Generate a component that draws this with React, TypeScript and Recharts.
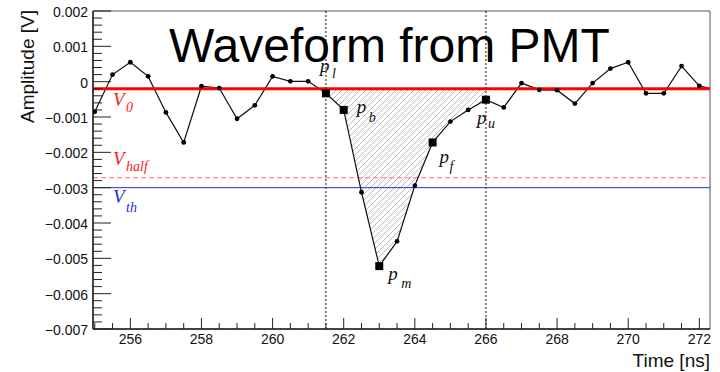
import React from "react";
import {
  ComposedChart,
  Line,
  Area,
  XAxis,
  YAxis,
  ReferenceLine,
  ReferenceArea,
} from "recharts";

// sample times [ns] and amplitudes [V]
const times = [
  255, 255.5, 256, 256.5, 257, 257.5, 258, 258.5, 259, 259.5, 260, 260.5,
  261, 261.5, 262, 262.5, 263, 263.5, 264, 264.5, 265, 265.5, 266, 266.5,
  267, 267.5, 268, 268.5, 269, 269.5, 270, 270.5, 271, 271.5, 272, 272.5,
];
const amplitudes = [
  -0.00085, 0.0002, 0.00055, 0.00015, -0.00087, -0.00172, -0.00013, -0.00018,
  -0.00105, -0.00067, 0.00015, 0.00001, 0.00001, -0.00033, -0.0008, -0.00313,
  -0.00522, -0.00452, -0.00294, -0.00172, -0.00113, -0.0008, -0.00051,
  -0.00073, -0.00004, -0.00023, -0.00024, -0.00062, -0.00004, 0.00037,
  0.00055, -0.00033, -0.00033, 0.00044, -0.00012, -0.00025,
];

// special points of the pulse: time -> subscript
const markTimes = [261.5, 262, 263, 264.5, 266];
const markNames = ["l", "b", "m", "f", "u"];

const v0 = -0.0002;
const vHalf = -0.00272;
const vTh = -0.003;
const pulseStart = 261.5;
const pulseEnd = 266;

const xDomain = [254.95, 272.3];
const yDomain = [-0.007, 0.002];

const timeTicks = Array.from({ length: 35 }, (_, i) => 255 + i * 0.5);
const ampTicks = Array.from({ length: 46 }, (_, i) =>
  Number(((i - 35) * 0.0002).toFixed(4))
);

const data = times.map((t, i) => {
  const k = markTimes.indexOf(t);
  return {
    t,
    v: amplitudes[i],
    band: t >= pulseStart && t <= pulseEnd ? [v0, amplitudes[i]] : null,
    mark: k >= 0 ? markNames[k] : null,
  };
});

const sans = "Liberation Sans, Arial, Helvetica, sans-serif";
const serif = "Liberation Serif, Times New Roman, serif";
const serifItalic = { fontFamily: serif, fontStyle: "italic" as const };

// label offsets relative to the marker: [p dx, p dy, sub dx, sub dy]
const markOffsets: Record<string, number[]> = {
  l: [-6, -21, 6, -15],
  b: [13, 3, 25, 12],
  m: [9, 14, 22, 22],
  f: [7, 21, 17, 29],
  u: [-9, 24, 2, 28],
};

const renderDot = (props: any) => {
  const { cx, cy, payload, index } = props;
  if (cx == null || cy == null) return <g key={index} />;
  if (payload.mark) {
    const o = markOffsets[payload.mark];
    return (
      <g key={index}>
        <rect x={cx - 4} y={cy - 4} width={8} height={8} fill="#000" />
        <text x={cx + o[0]} y={cy + o[1]} style={{ ...serifItalic, fontSize: 19 }} fill="#111">
          p
        </text>
        <text x={cx + o[2]} y={cy + o[3]} style={{ ...serifItalic, fontSize: 14 }} fill="#111">
          {payload.mark}
        </text>
      </g>
    );
  }
  return <circle key={index} cx={cx} cy={cy} r={2.4} fill="#000" />;
};

const TimeTick = (props: any) => {
  const { x, y, payload } = props;
  const v = payload.value;
  const major = Math.abs(v % 2) < 1e-9;
  return (
    <g>
      <line x1={x} x2={x} y1={y} y2={y - (major ? 11 : 6)} stroke="#222" />
      {major && (
        <text x={x} y={y + 15} textAnchor="middle" style={{ fontFamily: sans, fontSize: 14 }} fill="#111">
          {v}
        </text>
      )}
    </g>
  );
};

const fmtAmp = (v: number) =>
  v === 0 ? "0" : (v < 0 ? "\u2212" : "") + Math.abs(v).toFixed(3);

const AmpTick = (props: any) => {
  const { x, y, payload } = props;
  const v = payload.value;
  const major = Math.round(v * 10000) % 10 === 0;
  return (
    <g>
      <line x1={x} x2={x + (major ? 18 : 9)} y1={y} y2={y} stroke="#222" />
      {major && (
        <text x={x - 5} y={y + 6} textAnchor="end" style={{ fontFamily: sans, fontSize: 14 }} fill="#111">
          {fmtAmp(v)}
        </text>
      )}
    </g>
  );
};

const levelLabel = (sub: string, color: string, vDy: number, sDy: number) =>
  (props: any) => {
    const vb = props.viewBox || {};
    return (
      <g>
        <text x={vb.x + 20} y={vb.y + vDy} style={{ ...serifItalic, fontSize: 19 }} fill={color}>
          V
        </text>
        <text x={vb.x + 33} y={vb.y + sDy} style={{ ...serifItalic, fontSize: 14 }} fill={color}>
          {sub}
        </text>
      </g>
    );
  };

const XTitle = (props: any) => {
  const vb = props.viewBox || {};
  return (
    <text x={vb.x + vb.width} y={367} textAnchor="end" style={{ fontFamily: sans, fontSize: 19 }} fill="#111">
      Time [ns]
    </text>
  );
};

const YTitle = () => (
  <text x={34} y={10} transform="rotate(-90 34 10)" textAnchor="end" style={{ fontFamily: sans, fontSize: 19 }} fill="#111">
    Amplitude [V]
  </text>
);

export default function App() {
  return (
    <div style={{ position: "absolute", left: 0, top: 0, width: 720, height: 372, background: "#fff" }}>
      <ComposedChart
        width={720}
        height={372}
        data={data}
        margin={{ top: 11, right: 10, bottom: 0, left: 0 }}
      >
        <defs>
          <pattern id="hatch" patternUnits="userSpaceOnUse" width={6} height={6}>
            <path d="M-1,7 L7,-1 M-1,1 L1,-1 M5,7 L7,5" stroke="#a8a8a8" strokeWidth={0.8} />
          </pattern>
        </defs>
        <XAxis
          dataKey="t"
          type="number"
          domain={xDomain}
          allowDataOverflow
          ticks={timeTicks}
          interval={0}
          height={43}
          tickSize={0}
          tickMargin={0}
          tickLine={false}
          tick={<TimeTick />}
          axisLine={{ stroke: "#222", strokeWidth: 1.5 }}
          label={{ content: <XTitle /> }}
        />
        <YAxis
          type="number"
          domain={yDomain}
          allowDataOverflow
          ticks={ampTicks}
          interval={0}
          width={93}
          tickSize={0}
          tickMargin={0}
          tickLine={false}
          tick={<AmpTick />}
          axisLine={{ stroke: "#222", strokeWidth: 1.5 }}
          label={{ content: <YTitle /> }}
        />
        <ReferenceArea
          x1={xDomain[0]}
          x2={xDomain[1]}
          y1={yDomain[0]}
          y2={yDomain[1]}
          fill="none"
          stroke="#555"
          strokeWidth={1}
        />
        <Area
          dataKey="band"
          type="linear"
          fill="url(#hatch)"
          fillOpacity={1}
          stroke="none"
          isAnimationActive={false}
          activeDot={false}
        />
        <ReferenceLine x={pulseStart} stroke="#111" strokeDasharray="2 2" strokeWidth={1} />
        <ReferenceLine x={pulseEnd} stroke="#111" strokeDasharray="2 2" strokeWidth={1} />
        <ReferenceLine
          y={vHalf}
          stroke="#ff7070"
          strokeDasharray="5 3"
          strokeWidth={1}
          label={{ content: levelLabel("half", "#ff1a1a", -13, -7) }}
        />
        <ReferenceLine
          y={vTh}
          stroke="#2a2ae0"
          strokeWidth={1}
          label={{ content: levelLabel("th", "#2a2ae0", 15, 24) }}
        />
        <Line
          dataKey="v"
          type="linear"
          stroke="#111"
          strokeWidth={1.2}
          dot={renderDot}
          activeDot={false}
          isAnimationActive={false}
        />
        <ReferenceLine
          y={v0}
          stroke="#ff0000"
          strokeWidth={3}
          label={{ content: levelLabel("0", "#ff1a1a", 17, 23) }}
        />
        <text x={169} y={62} style={{ fontFamily: sans, fontSize: 48 }} fill="#000">
          Waveform from PMT
        </text>
      </ComposedChart>
    </div>
  );
}
